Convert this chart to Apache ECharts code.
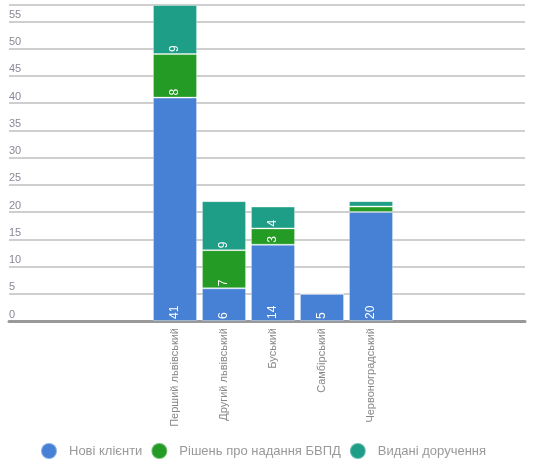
<!DOCTYPE html>
<html>
<head>
<meta charset="utf-8">
<script src="https://cdn.jsdelivr.net/npm/echarts@6/dist/echarts.min.js"></script>
<style>
  html, body { margin: 0; padding: 0; background: #fff; }
  #chart { width: 538px; height: 468px; }
</style>
</head>
<body>
<div id="chart"></div>
<script>
// Categories and series values
const categories = ['Перший львівський', 'Другий львівський', 'Буський', 'Самбірський', 'Червоноградський']
const newClients = [41, 6, 14, 5, 20]
const decisions = [8, 7, 3, 0, 1]
const orders = [9, 9, 4, 0, 1]
const seriesNames = ['Нові клієнти', 'Рішень про надання БВПД', 'Видані доручення']

const Y_MAX = 58
const FONT = '"Liberation Sans Narrow", "Liberation Sans", sans-serif'

const COLOR_BLUE = '#4681d6'
const COLOR_GREEN = '#239b24'
const COLOR_TEAL = '#1f9e87'

const chart = echarts.init(document.getElementById('chart'))

const barLabel = {
  show: true,
  position: 'insideBottom',
  rotate: 90,
  align: 'left',
  verticalAlign: 'middle',
  distance: 2,
  color: '#fff',
  fontSize: 12,
  fontFamily: FONT,
  formatter: (p) => (p.value >= 2 ? String(p.value) : ''),
}

const makeSeries = (name, data, color) => ({
  name,
  type: 'bar',
  stack: 'total',
  xAxisIndex: 1,
  yAxisIndex: 1,
  barCategoryGap: '10%',
  itemStyle: { color, borderColor: 'rgba(255,255,255,0.35)', borderWidth: 1 },
  label: barLabel,
  data,
})

chart.setOption({
  animation: false,
  textStyle: { fontFamily: FONT },
  grid: [
    // wide background grid: y labels, grid lines, base line
    { left: 9, right: 13, top: 5, bottom: 147 },
    // narrow grid holding the bars
    { left: 150.5, width: 245, top: 5, bottom: 147 },
  ],
  legend: {
    left: 35,
    top: 437,
    icon: 'circle',
    itemWidth: 16,
    itemHeight: 16,
    itemGap: 8,
    textStyle: { color: '#999', fontSize: 13, fontFamily: FONT, padding: [0, 0, 0, 7] },
    data: seriesNames,
  },
  xAxis: [
    {
      gridIndex: 0,
      type: 'category',
      data: [''],
      axisLine: { show: true, lineStyle: { color: '#999', width: 3 } },
      axisTick: { show: false },
      axisLabel: { show: false },
    },
    {
      gridIndex: 1,
      type: 'category',
      data: categories,
      axisLine: { show: false },
      axisTick: { show: false },
      axisLabel: {
        rotate: 90,
        margin: 7,
        color: '#888',
        fontSize: 11,
        fontFamily: FONT,
      },
    },
  ],
  yAxis: [
    {
      gridIndex: 0,
      type: 'value',
      min: 0,
      max: Y_MAX,
      interval: 5,
      axisLine: { show: false },
      axisTick: { show: false },
      axisLabel: {
        inside: true,
        margin: 0,
        verticalAlign: 'bottom',
        padding: [0, 0, 1, 0],
        color: '#8a8797',
        fontSize: 11,
        fontFamily: FONT,
        formatter: (v) => (v % 5 === 0 ? String(v) : ''),
      },
      splitLine: { show: true, lineStyle: { color: '#cfcfcf', width: 2 } },
    },
    {
      gridIndex: 1,
      type: 'value',
      min: 0,
      max: Y_MAX,
      show: false,
      splitLine: { show: false },
    },
  ],
  series: [
    makeSeries(seriesNames[0], newClients, COLOR_BLUE),
    makeSeries(seriesNames[1], decisions, COLOR_GREEN),
    makeSeries(seriesNames[2], orders, COLOR_TEAL),
  ],
})
</script>
</body>
</html>
